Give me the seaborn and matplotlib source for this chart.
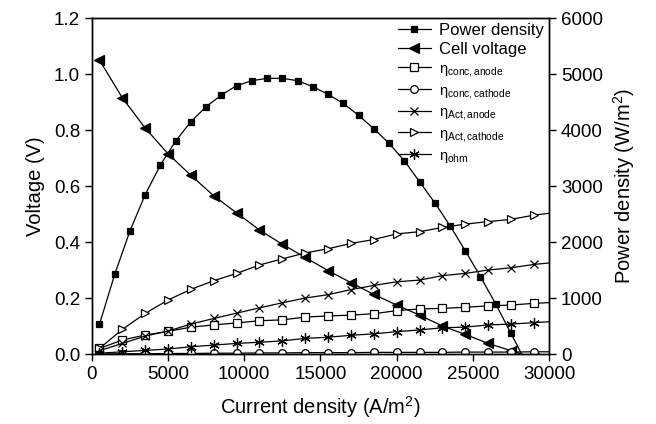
import numpy as np
import pandas as pd
import matplotlib
matplotlib.use("Agg")
import matplotlib.pyplot as plt
import seaborn as sns

# current density samples (A/m2)
x_pow = [500, 1500, 2500, 3500, 4500, 5500, 6500, 7500, 8500, 9500, 10500, 11500, 12500, 13500,
         14500, 15500, 16500, 17500, 18500, 19500, 20500, 21500, 22500, 23500, 24500, 25500,
         26500, 27500, 28500]
power = [530, 1423, 2197, 2846, 3375, 3804, 4149, 4417, 4625, 4792, 4881, 4923, 4923, 4881,
         4774, 4637, 4476, 4262, 4024, 3762, 3452, 3077, 2702, 2292, 1845, 1381,
         893, 369, -160]

x_cell = [500, 2000, 3500, 5000, 6500, 8000, 9500, 11000, 12500, 14000, 15500, 17000, 18500,
          20000, 21500, 23000, 24500, 26000, 27500, 29000]
cell_v = [1.05, 0.915, 0.807, 0.715, 0.638, 0.565, 0.504, 0.443, 0.392, 0.345, 0.298, 0.255, 0.213,
          0.175, 0.139, 0.100, 0.070, 0.038, 0.012, -0.014]

x_eta = [500, 2000, 3500, 5000, 6500, 8000, 9500, 11000, 12500, 14000, 15500, 17000, 18500,
         20000, 21500, 23000, 24500, 26000, 27500, 29000, 30500]
conc_anode = [0.020, 0.050, 0.068, 0.081, 0.096, 0.104, 0.111, 0.119, 0.122, 0.132, 0.136, 0.139, 0.144,
              0.155, 0.161, 0.163, 0.167, 0.172, 0.175, 0.181, 0.185]
conc_cathode = [0.000, 0.001, 0.001, 0.002, 0.002, 0.003, 0.003, 0.004, 0.004, 0.005, 0.005, 0.005, 0.006,
                0.006, 0.006, 0.006, 0.007, 0.007, 0.007, 0.008, 0.008]
act_anode = [0.012, 0.038, 0.064, 0.082, 0.107, 0.127, 0.146, 0.165, 0.183, 0.200, 0.212, 0.230, 0.245,
             0.258, 0.264, 0.280, 0.288, 0.300, 0.308, 0.320, 0.328]
act_cathode = [0.020, 0.088, 0.145, 0.193, 0.231, 0.262, 0.288, 0.318, 0.340, 0.361, 0.376, 0.395, 0.409,
               0.429, 0.437, 0.452, 0.464, 0.473, 0.481, 0.496, 0.506]
ohm = [0.003, 0.008, 0.013, 0.018, 0.026, 0.032, 0.038, 0.042, 0.047, 0.056, 0.060, 0.067, 0.072,
       0.080, 0.086, 0.094, 0.096, 0.104, 0.107, 0.112, 0.117]

sns.set_style("ticks")
plt.rcParams['font.family'] = ['Liberation Sans', 'DejaVu Sans']
plt.rcParams['mathtext.fontset'] = 'custom'
plt.rcParams['mathtext.rm'] = 'Liberation Sans'
plt.rcParams['mathtext.it'] = 'Liberation Sans:italic'
plt.rcParams['text.color'] = 'k'
plt.rcParams['axes.labelcolor'] = 'k'

fig = plt.figure(figsize=(6.56, 4.24), dpi=100)
ax = fig.add_axes([0.140, 0.165, 0.697, 0.7925])
ax2 = ax.twinx()

lw = 0.9
kw = dict(color='k', linewidth=lw, markeredgecolor='k', markeredgewidth=0.9)

sns.lineplot(x=x_pow, y=power, ax=ax2, marker='s', markersize=4.5, markerfacecolor='k',
             label='Power density', **kw)
sns.lineplot(x=x_cell, y=cell_v, ax=ax, marker='<', markersize=6.5, markerfacecolor='k',
             label='Cell voltage', **kw)
eta_series = [
    (conc_anode, 's', 5.5, r'η$_{\mathrm{conc,anode}}$'),
    (conc_cathode, 'o', 5.5, r'η$_{\mathrm{conc,cathode}}$'),
    (act_anode, 'x', 5.5, r'η$_{\mathrm{Act,anode}}$'),
    (act_cathode, '>', 5.5, r'η$_{\mathrm{Act,cathode}}$'),
    (ohm, (6, 2, 0), 7.5, r'η$_{\mathrm{ohm}}$'),
]
for vals, mk, ms, lab in eta_series:
    sns.lineplot(x=x_eta, y=vals, ax=ax, marker=mk, markersize=ms, markerfacecolor='white',
                 label=lab, **kw)

ax.set_xlim(0, 30000)
ax.set_ylim(0, 1.2)
ax2.set_ylim(0, 6000)
ax.set_xticks(np.arange(0, 30001, 5000))
ax.set_yticks(np.arange(0, 1.21, 0.2))
ax.set_yticklabels([f"{v:.1f}" for v in np.arange(0, 1.21, 0.2)])
ax2.set_yticks(np.arange(0, 6001, 1000))

for a in (ax, ax2):
    a.tick_params(labelsize=13.5, width=1, length=5, direction='out', colors='k')
    for s in a.spines.values():
        s.set_visible(True)
        s.set_linewidth(1)
        s.set_color('k')

ax.set_xlabel('Current density (A/m$^2$)', fontsize=14.5, labelpad=8)
ax.set_ylabel('Voltage (V)', fontsize=14.5, labelpad=6)
ax2.set_ylabel('Power density (W/m$^2$)', fontsize=14.5, labelpad=6)

h1, l1 = ax2.get_legend_handles_labels()
h2, l2 = ax.get_legend_handles_labels()
ax.get_legend().remove()
ax2.get_legend().remove()
leg = ax2.legend(h1 + h2, l1 + l2, loc='upper right', frameon=False, fontsize=12,
                 labelspacing=0.25, handlelength=2.0, handletextpad=0.5,
                 borderaxespad=0.1, borderpad=0.2)
for t in leg.get_texts()[2:]:
    t.set_fontsize(10.5)

fig.savefig('out.png', dpi=100)
